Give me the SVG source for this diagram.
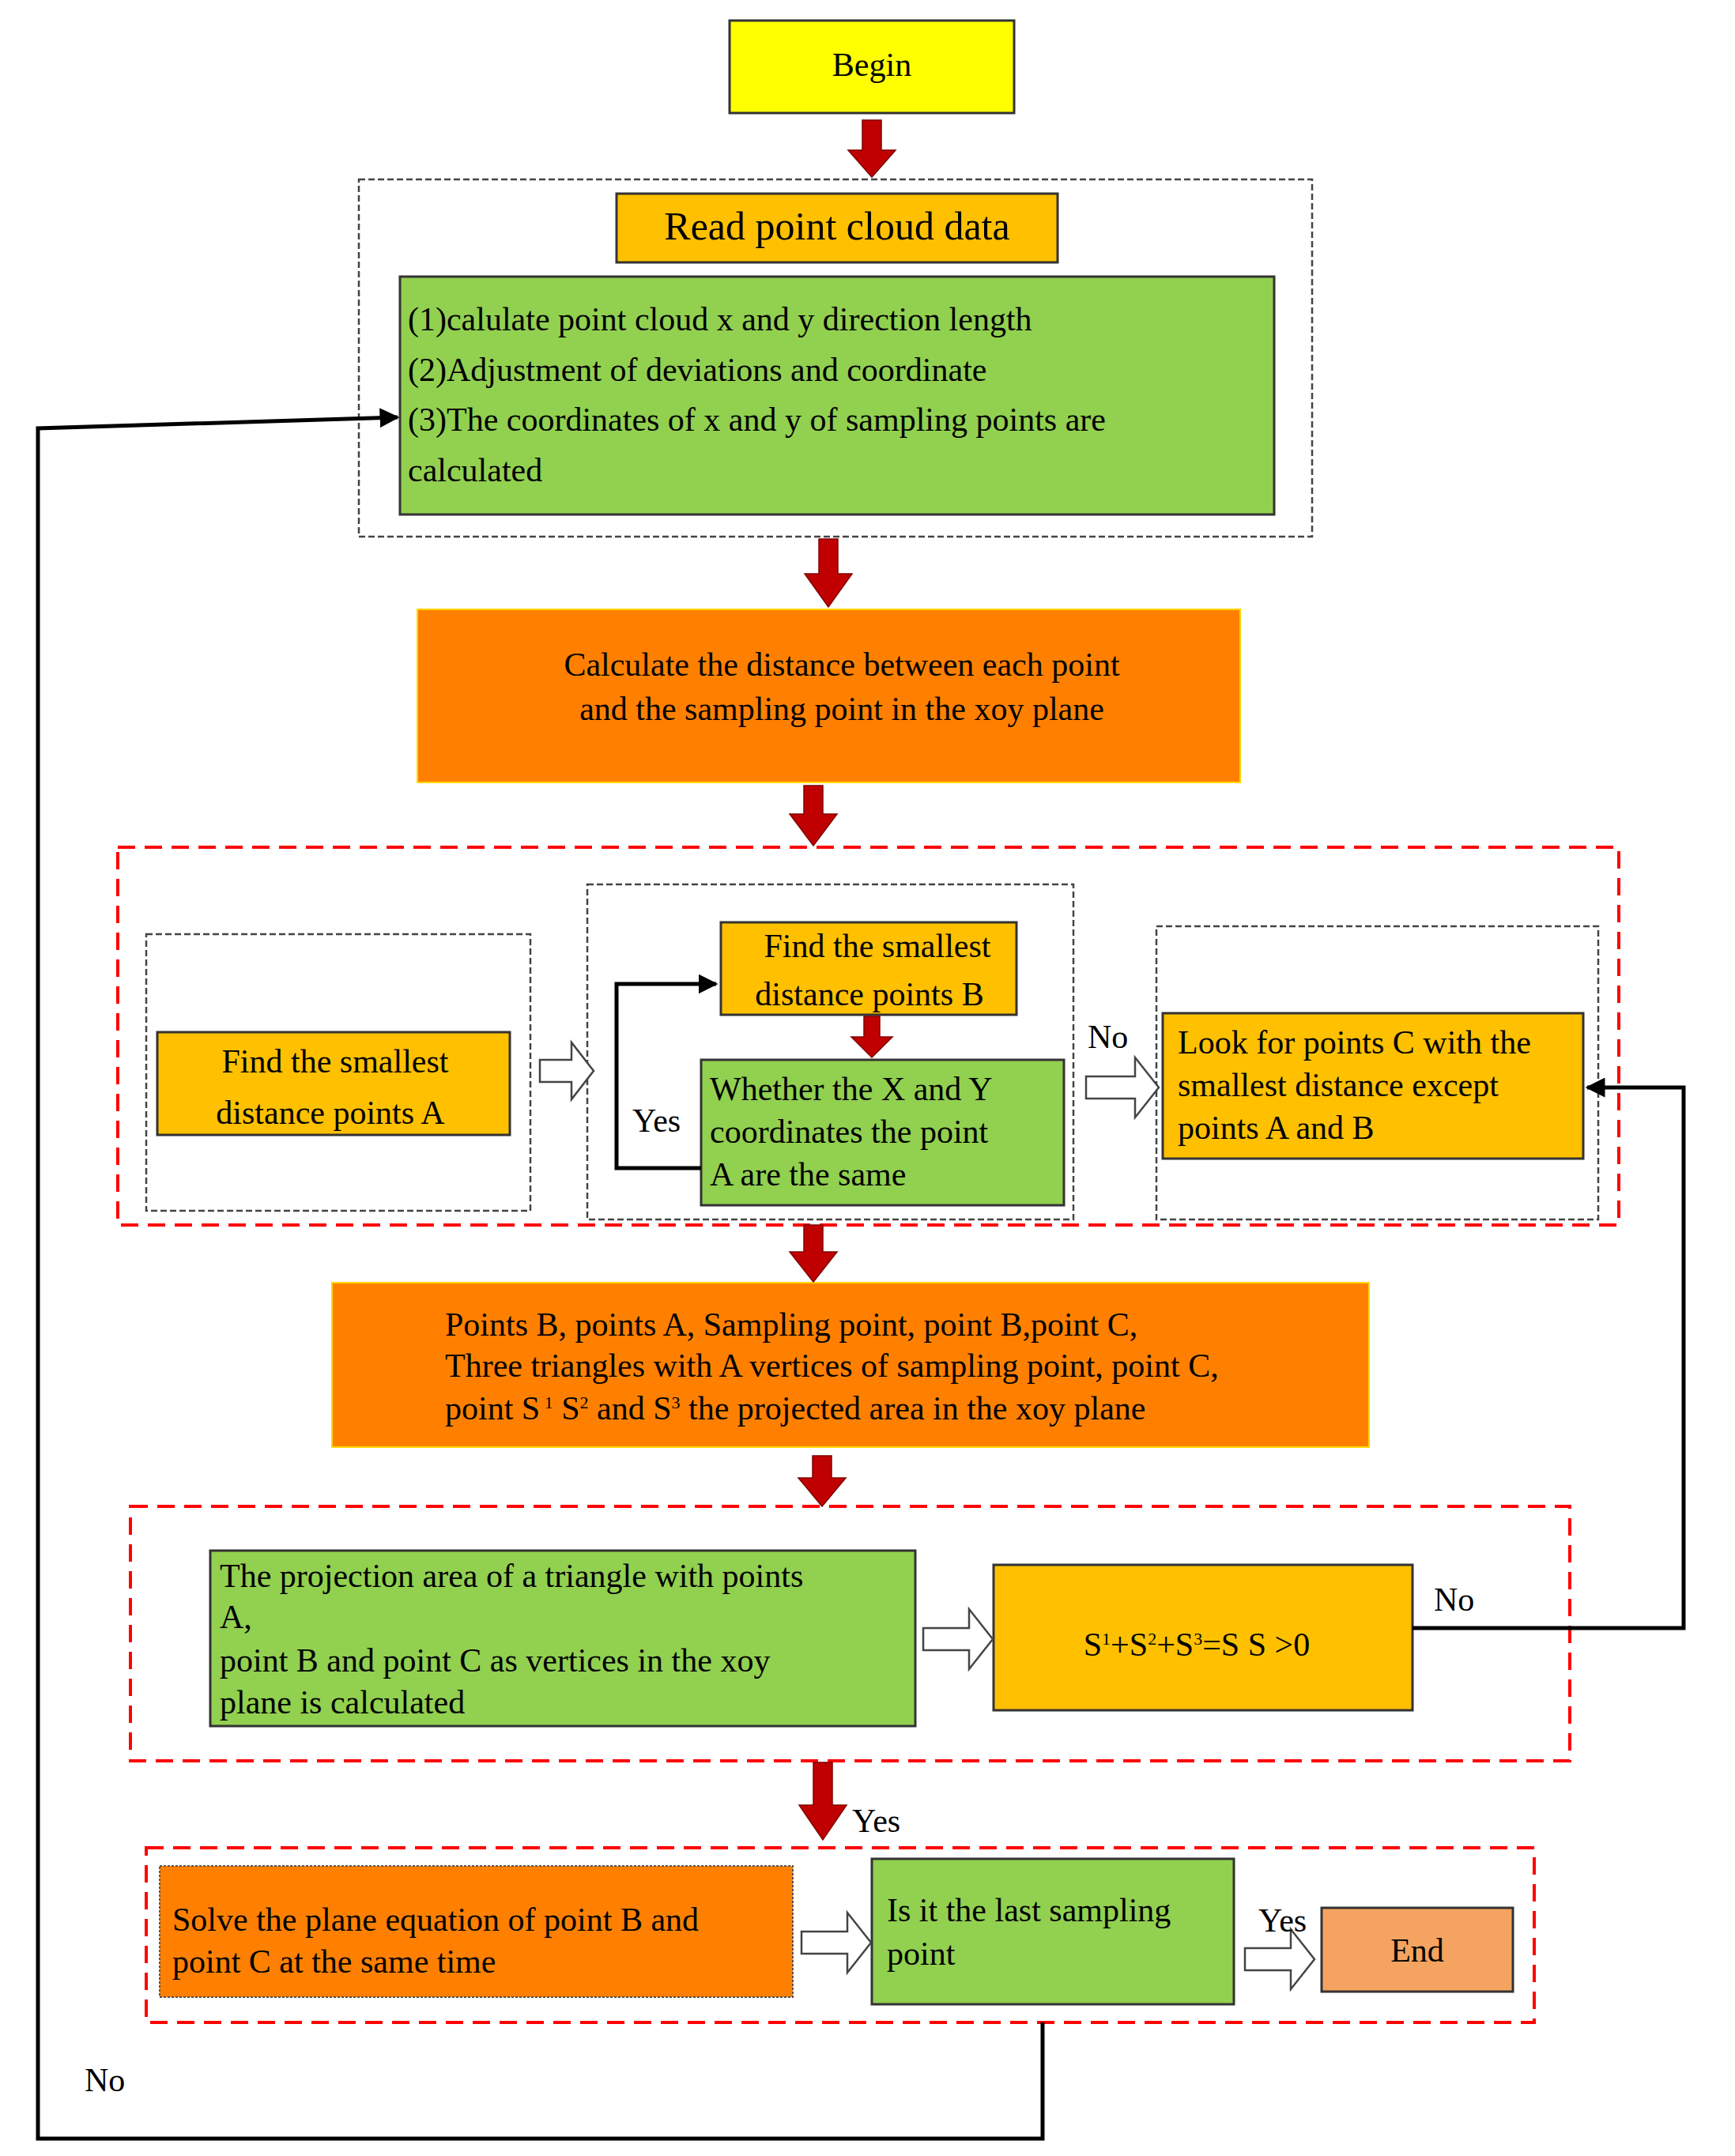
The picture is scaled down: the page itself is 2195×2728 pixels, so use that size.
<svg xmlns="http://www.w3.org/2000/svg" width="2195" height="2728" viewBox="0 0 2195 2728">
<defs>
<style>
text{font-family:"Liberation Serif","Times New Roman",serif;font-size:42px;fill:#000}
.c{text-anchor:middle}
.box{stroke:#333;stroke-width:3}
.gdash{fill:none;stroke:#444;stroke-width:2.5;stroke-dasharray:8 4}
.rdash{fill:none;stroke:#ff0000;stroke-width:4;stroke-dasharray:22 12}
.red{fill:#c00000;stroke:#800000;stroke-width:1.5}
.hol{fill:#fff;stroke:#444;stroke-width:2.5}
.ln{fill:none;stroke:#000;stroke-width:5}
</style>
<marker id="ah" viewBox="0 0 10 10" refX="9" refY="5" markerWidth="5" markerHeight="5" orient="auto"><path d="M0,0L10,5L0,10z" fill="#000"/></marker>
</defs>
<rect width="2195" height="2728" fill="#fff"/>
<g id="containers">
<rect class="gdash" x="454" y="227" width="1206" height="452"/>
<rect class="rdash" x="149" y="1072" width="1899" height="478"/>
<rect class="gdash" x="185" y="1182" width="486" height="350"/>
<rect class="gdash" x="743" y="1119" width="615" height="424"/>
<rect class="gdash" x="1463" y="1172" width="559" height="371"/>
<rect class="rdash" x="165" y="1906" width="1821" height="322"/>
<rect class="rdash" x="185" y="2338" width="1756" height="221"/>
</g>
<g id="begin"><rect class="box" x="923" y="26" width="360" height="117" fill="#ffff00"/><text class="c" x="1103" y="96">Begin</text></g>
<g id="read"><rect class="box" x="780" y="245" width="558" height="87" fill="#ffc000"/><text class="c" x="1059" y="303" style="font-size:50px">Read point cloud data</text></g>
<g id="steps"><rect class="box" x="506" y="350" width="1106" height="301" fill="#92d050"/>
<text x="516" y="418">(1)calulate point cloud x and y direction length</text>
<text x="516" y="482">(2)Adjustment of deviations and coordinate</text>
<text x="516" y="545">(3)The coordinates of x and y of sampling points are</text>
<text x="516" y="609">calculated</text></g>
<g id="calc"><rect x="528" y="771" width="1041" height="219" fill="#ff8000" stroke="#ffd700" stroke-width="2"/>
<text class="c" x="1065" y="855">Calculate the distance between each point</text>
<text class="c" x="1065" y="911">and the sampling point in the xoy plane</text></g>
<g id="findA"><rect class="box" x="199" y="1306" width="446" height="130" fill="#ffc000"/>
<text class="c" x="424" y="1357">Find the smallest</text><text class="c" x="418" y="1422">distance  points A</text></g>
<g id="findB"><rect class="box" x="912" y="1167" width="374" height="117" fill="#ffc000"/>
<text class="c" x="1110" y="1211">Find the smallest</text><text class="c" x="1100" y="1272">distance  points B</text></g>
<g id="whether"><rect class="box" x="887" y="1341" width="459" height="184" fill="#92d050"/>
<text x="898" y="1392">Whether  the X and Y</text><text x="898" y="1446">coordinates  the point</text><text x="898" y="1500">A are the  same</text></g>
<g id="findC"><rect class="box" x="1471" y="1282" width="532" height="184" fill="#ffc000"/>
<text x="1490" y="1333">Look for points C with the</text><text x="1490" y="1387">smallest distance except</text><text x="1490" y="1441">points A and B</text></g>
<g id="triangles"><rect x="420" y="1623" width="1312" height="208" fill="#ff8000" stroke="#ffd700" stroke-width="2"/>
<text x="563" y="1690">Points B, points A,  Sampling point, point B,point C,</text>
<text x="563" y="1742">Three triangles with A vertices of sampling point, point C,</text>
<text x="563" y="1796">point S<tspan dy="-14" style="font-size:22px"> 1</tspan><tspan dy="14"> S</tspan><tspan dy="-14" style="font-size:22px">2</tspan><tspan dy="14"> and S</tspan><tspan dy="-14" style="font-size:22px">3</tspan><tspan dy="14"> the projected area in the xoy plane</tspan></text></g>
<g id="projection"><rect class="box" x="266" y="1962" width="892" height="222" fill="#92d050"/>
<text x="278" y="2008">The projection area of a triangle with points</text>
<text x="278" y="2060">A,</text>
<text x="278" y="2115">point B and point C as vertices in the xoy</text>
<text x="278" y="2168">plane is calculated</text></g>
<g id="sum"><rect class="box" x="1257" y="1980" width="530" height="184" fill="#ffc000"/>
<text class="c" x="1514" y="2095">S<tspan dy="-14" style="font-size:22px">1</tspan><tspan dy="14">+S</tspan><tspan dy="-14" style="font-size:22px">2</tspan><tspan dy="14">+S</tspan><tspan dy="-14" style="font-size:22px">3</tspan><tspan dy="14">=S S &gt;0</tspan></text></g>
<g id="solve"><rect x="202" y="2361" width="801" height="166" fill="#ff8000" stroke="#555" stroke-width="2" stroke-dasharray="3 2"/>
<text x="218" y="2443">Solve the plane equation of point B and</text><text x="218" y="2496">point C at the same time</text></g>
<g id="last"><rect class="box" x="1103" y="2352" width="458" height="184" fill="#92d050"/>
<text x="1122" y="2431">Is it the last sampling</text><text x="1122" y="2486">point</text></g>
<g id="end"><rect class="box" x="1672" y="2414" width="242" height="106" fill="#f4a460"/><text class="c" x="1793" y="2482">End</text></g>
<g id="connectors">
<path class="red" d="M1091,152h24v38h18l-30,34l-30,-34h18z"/>
<path class="red" d="M1036,682h24v44h18l-30,42l-30,-42h18z"/>
<path class="red" d="M1017,994h24v36h18l-30,40l-30,-40h18z"/>
<path class="red" d="M1093,1286h20v26h16l-26,26l-26,-26h16z"/>
<path class="red" d="M1017,1550h24v34h18l-30,38l-30,-38h18z"/>
<path class="red" d="M1028,1842h24v28h18l-30,36l-30,-36h18z"/>
<path class="red" d="M1029,2230h24v54h18l-30,44l-30,-44h18z"/>
<path class="hol" d="M683,1341h40v-22l28,36l-28,36v-22h-40z"/>
<path class="hol" d="M1374,1362h62v-24l30,38l-30,38v-24h-62z"/>
<path class="hol" d="M1168,2060h58v-24l30,38l-30,38v-24h-58z"/>
<path class="hol" d="M1014,2444h58v-24l30,38l-30,38v-24h-58z"/>
<path class="hol" d="M1575,2465h58v-24l30,38l-30,38v-24h-58z"/>
<polyline class="ln" points="887,1478 780,1478 780,1245 906,1245" marker-end="url(#ah)"/>
<polyline class="ln" points="1787,2060 2130,2060 2130,1376 2008,1376" marker-end="url(#ah)"/>
<polyline class="ln" points="1319,2559 1319,2706 48,2706 48,542 503,528" marker-end="url(#ah)"/>
<text x="800" y="1432">Yes</text>
<text x="1376" y="1326">No</text>
<text x="1814" y="2038">No</text>
<text x="1078" y="2318">Yes</text>
<text x="1592" y="2444">Yes</text>
<text x="107" y="2646">No</text>
</g>
</svg>
